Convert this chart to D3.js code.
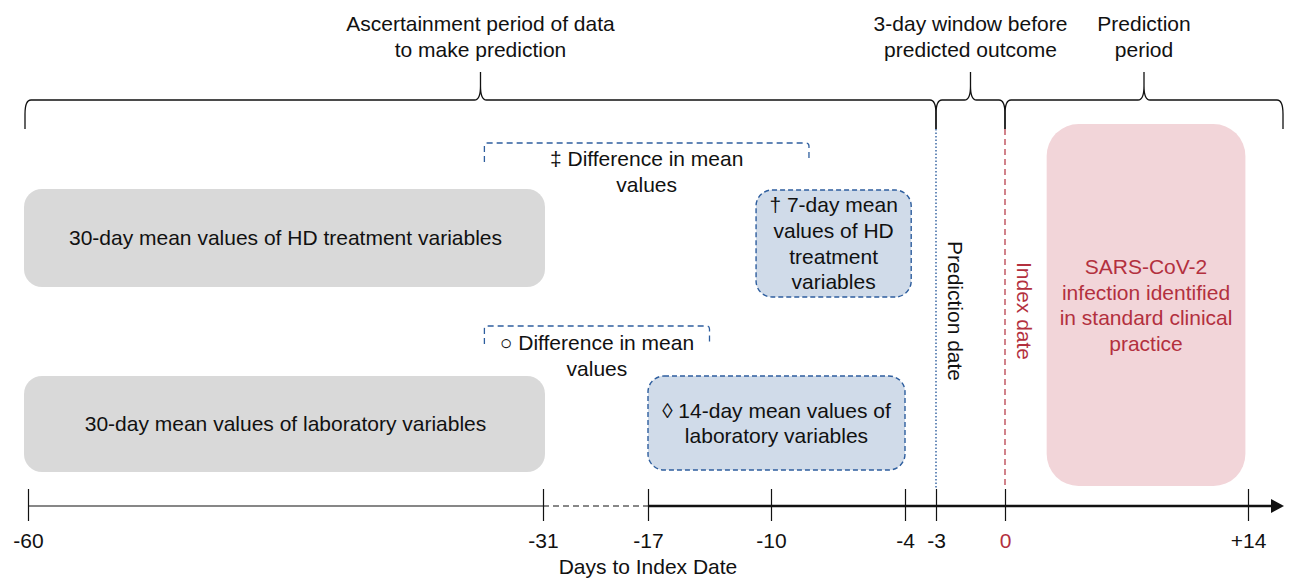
<!DOCTYPE html>
<html>
<head>
<meta charset="utf-8">
<script src="https://cdn.jsdelivr.net/npm/d3@7"></script>
<style>
  body { margin: 0; background: #fff; }
  svg text { font-family: "Liberation Sans", Arial, sans-serif; font-size: 21px; fill: #111; }
  .red { fill: #b3303e; }
</style>
</head>
<body>
<script>
// ---- data ----
var tickDays = [-60, -31, -17, -10, -4, -3, 0, 14];
var tickLabels = ['-60', '-31', '-17', '-10', '-4', '-3', '0', '+14'];

var periods = [
  { from: -60, to: -3, label: ['Ascertainment period of data', 'to make prediction'] },
  { from: -3, to: 0, label: ['3-day window before', 'predicted outcome'] },
  { from: 0, to: 'end', label: ['Prediction', 'period'] }
];

var meanBoxes = [
  { from: -60, to: -31, row: 0, label: ['30-day mean values of HD treatment variables'] },
  { from: -60, to: -31, row: 1, label: ['30-day mean values of laboratory variables'] }
];

var windowBoxes = [
  { from: -10.85, to: -3.8, row: 0, label: ['\u2020 7-day mean', 'values of HD', 'treatment', 'variables'] },
  { from: -17, to: -4, row: 1, label: ['\u25CA 14-day mean values of', 'laboratory variables'] }
];

var differences = [
  { from: -34.3, to: -8.3, row: 0, label: ['\u2021 Difference in mean', 'values'] },
  { from: -34.3, to: -13.5, row: 1, label: ['\u25CB Difference in mean', 'values'] }
];

var outcome = { from: 2.4, to: 13.85, label: ['SARS-CoV-2', 'infection identified', 'in standard clinical', 'practice'] };

var markers = [
  { day: -3, label: 'Prediction date', kind: 'pred' },
  { day: 0, label: 'Index date', kind: 'index' }
];

var axisTitle = 'Days to Index Date';

// ---- layout ----
var W = 1292, H = 579;
var blue = '#2e5e9e', red = '#b3303e';
var axisY = 506;
var lineH = 25.7;
var rowBox = [{ y0: 189, y1: 287 }, { y0: 376, y1: 472 }];
var rowWin = [{ y0: 190, y1: 297 }, { y0: 376, y1: 470 }];
var rowDiff = [{ top: 143, bottom: 162, text: 159 }, { top: 326, bottom: 344, text: 343 }];

// broken (piecewise) day axis
var x = d3.scaleLinear()
  .domain(tickDays)
  .range([28, 543, 648, 771, 905, 936, 1005, 1248]);
var xEnd = 1284;
function px(d) { return d === 'end' ? xEnd - 1 : x(d); }

var svg = d3.select('body').append('svg')
  .attr('width', W).attr('height', H);

function lines(g, arr, cx, cy, cls) {
  var t = g.append('text').attr('text-anchor', 'middle');
  if (cls) t.attr('class', cls);
  arr.forEach(function(s, i) {
    t.append('tspan')
      .attr('x', cx)
      .attr('y', cy + (i - (arr.length - 1) / 2) * lineH)
      .attr('dy', '0.35em')
      .text(s);
  });
  return t;
}

// ---- braces on top ----
function brace(a, b) {
  var m = (a + b) / 2, yb = 129, yh = 100, yt = 72, r = 6;
  return 'M' + a + ',' + yb + ' L' + a + ',' + (yh + 14) +
    ' Q' + a + ',' + yh + ' ' + (a + r) + ',' + yh +
    ' L' + (m - r) + ',' + yh + ' Q' + m + ',' + yh + ' ' + m + ',' + (yh - 14) +
    ' L' + m + ',' + yt +
    ' M' + m + ',' + (yh - 14) + ' Q' + m + ',' + yh + ' ' + (m + r) + ',' + yh +
    ' L' + (b - r) + ',' + yh + ' Q' + b + ',' + yh + ' ' + b + ',' + (yh + 14) +
    ' L' + b + ',' + yb;
}

var gb = svg.append('g');
periods.forEach(function(p) {
  var a = px(p.from) - (p.from === -60 ? 3 : 0), b = px(p.to);
  gb.append('path')
    .attr('d', brace(a, b))
    .attr('fill', 'none')
    .attr('stroke', '#111')
    .attr('stroke-width', 1.3);
  lines(gb, p.label, (a + b) / 2, 36.5);
});

// ---- outcome box ----
svg.append('rect')
  .attr('x', x(outcome.from)).attr('y', 124)
  .attr('width', x(outcome.to) - x(outcome.from)).attr('height', 362)
  .attr('rx', 32).attr('fill', '#f2d5d9');
lines(svg, outcome.label, (x(outcome.from) + x(outcome.to)) / 2, 305, 'red');

// ---- 30-day mean boxes ----
meanBoxes.forEach(function(d) {
  var r = rowBox[d.row];
  svg.append('rect')
    .attr('x', x(d.from) - 4).attr('y', r.y0)
    .attr('width', x(d.to) - x(d.from) + 6).attr('height', r.y1 - r.y0)
    .attr('rx', 18).attr('fill', '#d9d9d9');
  lines(svg, d.label, (x(d.from) + x(d.to)) / 2, (r.y0 + r.y1) / 2);
});

// ---- window boxes (dashed blue) ----
windowBoxes.forEach(function(d) {
  var r = rowWin[d.row];
  svg.append('rect')
    .attr('x', x(d.from)).attr('y', r.y0)
    .attr('width', x(d.to) - x(d.from)).attr('height', r.y1 - r.y0)
    .attr('rx', 16)
    .attr('fill', '#d0dbe9')
    .attr('stroke', blue).attr('stroke-width', 1.4)
    .attr('stroke-dasharray', '5,3');
  lines(svg, d.label, (x(d.from) + x(d.to)) / 2, (r.y0 + r.y1) / 2);
});

// ---- difference brackets ----
differences.forEach(function(d) {
  var r = rowDiff[d.row], a = x(d.from), b = x(d.to);
  svg.append('path')
    .attr('d', 'M' + a + ',' + r.bottom + ' L' + a + ',' + (r.top + 3) +
      ' Q' + a + ',' + r.top + ' ' + (a + 3) + ',' + r.top +
      ' L' + (b - 3) + ',' + r.top + ' Q' + b + ',' + r.top + ' ' + b + ',' + (r.top + 3) +
      ' L' + b + ',' + r.bottom)
    .attr('fill', 'none')
    .attr('stroke', blue).attr('stroke-width', 1.3)
    .attr('stroke-dasharray', '6,4');
  lines(svg, d.label, (a + b) / 2, r.text + lineH / 2);
});

// ---- vertical marker lines ----
markers.forEach(function(m) {
  var isPred = m.kind === 'pred';
  svg.append('line')
    .attr('x1', x(m.day)).attr('x2', x(m.day))
    .attr('y1', 129).attr('y2', 488)
    .attr('stroke', isPred ? blue : red)
    .attr('stroke-width', isPred ? 1.4 : 1.2)
    .attr('stroke-dasharray', isPred ? '1.5,2' : '6,4');
  svg.append('text')
    .attr('class', isPred ? null : 'red')
    .attr('text-anchor', 'middle')
    .attr('dy', '0.35em')
    .attr('transform', 'translate(' + (x(m.day) + 19.5) + ',' + 311 + ') rotate(90)')
    .text(m.label);
});

// ---- axis ----
var ga = svg.append('g');
var segs = [
  { a: -60, b: -31, w: 1.2, dash: null },
  { a: -31, b: -17, w: 1.2, dash: '6,4' },
  { a: -17, b: 'end', w: 2.4, dash: null }
];
segs.forEach(function(s) {
  ga.append('line')
    .attr('x1', x(s.a)).attr('x2', s.b === 'end' ? xEnd - 12 : x(s.b))
    .attr('y1', axisY).attr('y2', axisY)
    .attr('stroke', '#111').attr('stroke-width', s.w)
    .attr('stroke-dasharray', s.dash);
});
ga.append('path')
  .attr('d', 'M' + (xEnd - 13) + ',' + (axisY - 7) + ' L' + xEnd + ',' + axisY + ' L' + (xEnd - 13) + ',' + (axisY + 7) + 'Z')
  .attr('fill', '#111');

var axis = d3.axisBottom(x)
  .tickValues(tickDays)
  .tickFormat(function(d, i) { return tickLabels[i]; })
  .tickSize(15)
  .tickPadding(20);

var gx = svg.append('g')
  .attr('transform', 'translate(0,' + axisY + ')')
  .call(axis);
gx.select('.domain').remove();
gx.selectAll('.tick line')
  .attr('y1', -17).attr('y2', 15)
  .attr('stroke', '#111').attr('stroke-width', 1.2);
gx.selectAll('.tick text')
  .attr('y', 35).attr('dy', '0.35em')
  .style('fill', function(d) { return d === 0 ? red : '#111'; });
gx.attr('font-size', null).attr('font-family', null);

svg.append('text')
  .attr('x', x(-17)).attr('y', 567)
  .attr('dy', '0.35em')
  .attr('text-anchor', 'middle')
  .text(axisTitle);
</script>
</body>
</html>
